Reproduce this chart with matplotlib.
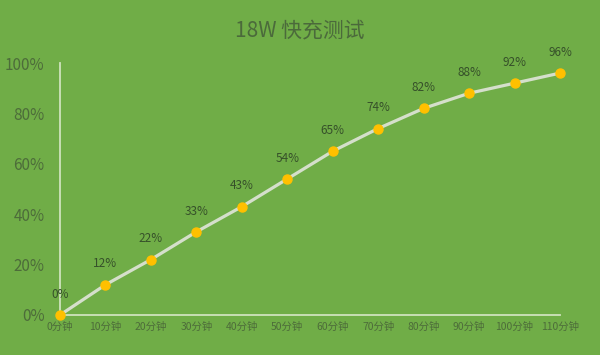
import matplotlib
matplotlib.use('Agg')
import matplotlib.pyplot as plt

plt.rcParams['font.family'] = ['Noto Sans CJK SC', 'DejaVu Sans']

minutes = [0, 10, 20, 30, 40, 50, 60, 70, 80, 90, 100, 110]
charge = [0, 12, 22, 33, 43, 54, 65, 74, 82, 88, 92, 96]
x_labels = ['%d分钟' % m for m in minutes]
y_ticks = [0, 20, 40, 60, 80, 100]
title = '18W 快充测试'

bg = '#70ad47'
fig = plt.figure(figsize=(6, 3.55), dpi=100, facecolor=bg)
ax = fig.add_axes([0.1, 0.1127, 0.8333, 0.7098])
ax.set_facecolor(bg)

ax.plot(minutes, charge, color='#d5dfcb', lw=2.3, zorder=2, solid_capstyle='round')
ax.plot(minutes, charge, 'o', color='#ffc000', ms=6.5, zorder=3, clip_on=False)

for m, c in zip(minutes, charge):
    ax.annotate('%d%%' % c, (m, c), xytext=(0, 15), textcoords='offset points',
                ha='center', va='center', fontsize=8.5, color='#36502a')

ax.set_xlim(0, 110)
ax.set_ylim(0, 100)
ax.set_xticks(minutes)
ax.set_xticklabels(x_labels, fontsize=7.5, color='#4d6c3a')
ax.set_yticks(y_ticks)
ax.set_yticklabels(['%d%%' % v for v in y_ticks], fontsize=11, color='#4d6c3a',
                   fontweight='light')
ax.tick_params(length=0)
ax.tick_params(axis='y', pad=11)
ax.tick_params(axis='x', pad=5)

for s in ['top', 'right']:
    ax.spines[s].set_visible(False)
for s in ['left', 'bottom']:
    ax.spines[s].set_color('#cfe3bd')
    ax.spines[s].set_linewidth(1.3)

fig.text(0.5, 0.915, title, ha='center', va='center', fontsize=15, color='#4b6a3b',
         fontweight='light')

fig.savefig('out.png', dpi=100, facecolor=bg)
